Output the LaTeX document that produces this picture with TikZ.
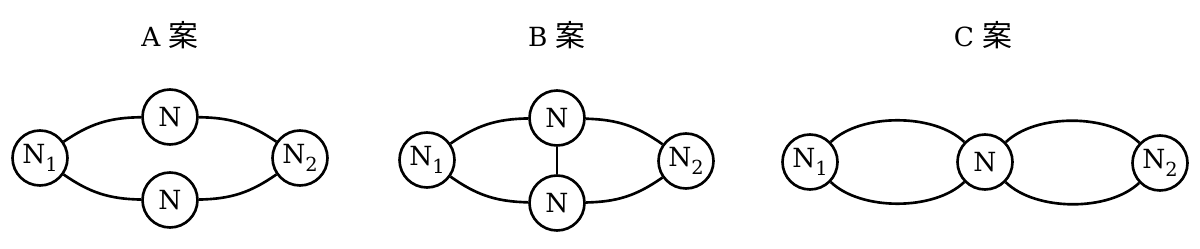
\documentclass[tikz,border=0pt]{standalone}
\usepackage{fontspec}
\setmainfont{DejaVu Serif}
\newfontfamily\cjk{Noto Sans CJK JP}
\newcommand{\nsub}[1]{N\raisebox{-5pt}{\fontsize{11}{12}\selectfont #1}}

\begin{document}
\begin{tikzpicture}[x=0.02cm,y=-0.02cm,line width=1.5pt,
  nd/.style={draw,circle,fill=white,minimum size=1.1cm,inner sep=0pt,font=\fontsize{15}{18}\selectfont},
  ttl/.style={font=\fontsize{15}{18}\selectfont}]
\useasboundingbox (0,0) rectangle (1200,249);
\foreach \x/\t in {170/A,557/B,983/C}{\node[ttl] (ttl\t) at (\x,35){\t\ {\cjk\fontsize{17}{18}\selectfont 案}};}
% A
\node[nd] (a1) at (40,158){\nsub{1}};\node[nd] (at) at (170,117){N};\node[nd] (ab) at (170,200){N};\node[nd] (a2) at (300,158){\nsub{2}};
\draw (a1) to[bend left=17] (at) (at) to[bend left=17] (a2);
\draw (a1) to[bend right=17] (ab) (ab) to[bend right=17] (a2);
% B
\node[nd] (b1) at (427,160){\nsub{1}};\node[nd] (bt) at (557,118){N};\node[nd] (bb) at (557,203){N};\node[nd] (b2) at (686,161){\nsub{2}};
\draw (b1) to[bend left=17] (bt) (bt) to[bend left=17] (b2);
\draw (b1) to[bend right=17] (bb) (bb) to[bend right=17] (b2);
\draw (bt)--(bb);
% C
\node[nd] (c1) at (810,162){\nsub{1}};\node[nd] (cm) at (985,162){N};\node[nd] (c2) at (1160,163){\nsub{2}};
\draw (c1) to[bend left=44,looseness=0.8] (cm) (cm) to[bend left=44,looseness=0.8] (c2);
\draw (c1) to[bend right=44,looseness=0.8] (cm) (cm) to[bend right=44,looseness=0.8] (c2);
\end{tikzpicture}
\end{document}
